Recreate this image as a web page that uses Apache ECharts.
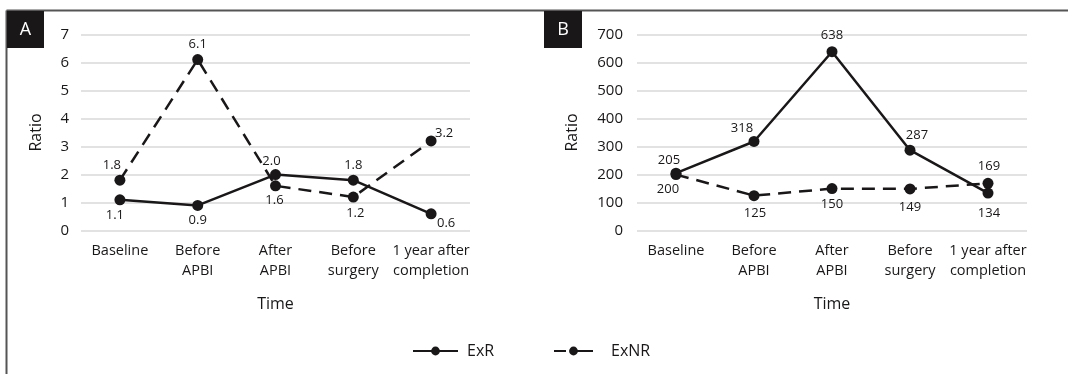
<!DOCTYPE html>
<html>
<head>
<meta charset="utf-8">
<script src="https://cdn.jsdelivr.net/npm/echarts@6/dist/echarts.min.js"></script>
<style>
html,body{margin:0;padding:0;background:#fff;}
#chart{width:1068px;height:374px;}
</style>
</head>
<body>
<div id="chart"></div>
<script>
const categories = ['Baseline', 'Before\nAPBI', 'After\nAPBI', 'Before\nsurgery', '1 year after\ncompletion'];
const seriesNames = ['ExR', 'ExNR'];
const panelA_ExR = [1.1, 0.9, 2.0, 1.8, 0.6];
const panelA_ExNR = [1.8, 6.1, 1.6, 1.2, 3.2];
const panelB_ExR = [205, 318, 638, 287, 134];
const panelB_ExNR = [200, 125, 150, 149, 169];
const yTicksA = [0, 1, 2, 3, 4, 5, 6, 7];
const yTicksB = [0, 100, 200, 300, 400, 500, 600, 700];
const panelLetters = ['A', 'B'];

// label offsets (style only)
const offA_ExR = [[-5,15],[0,15],[-4,-13],[0,-15],[15,9]];
const offA_ExNR = [[-8,-15],[0,-15],[-1,14],[2,16],[13,-8]];
const offB_ExR = [[-7,-13],[-12,-13],[0,-16],[7,-15],[1,20]];
const offB_ExNR = [[-8,15],[1,18],[0,16],[0,18],[1,-17]];

const FONT = 'Open Sans';
const INK = '#1a1718';

function items(vals, offs, digits) {
  return vals.map((v, i) => ({
    value: v,
    label: { offset: offs[i], formatter: () => digits ? v.toFixed(digits) : String(v) }
  }));
}

function lineSeries(name, vals, offs, idx, dashed, digits) {
  return {
    name: name, type: 'line', xAxisIndex: idx, yAxisIndex: idx,
    data: items(vals, offs, digits),
    symbol: 'circle', symbolSize: 11,
    itemStyle: { color: INK },
    lineStyle: { color: INK, width: 2.5, type: dashed ? [13, 8] : 'solid' },
    label: { show: true, position: 'inside', color: INK, fontFamily: FONT, fontSize: 13 },
    z: dashed ? 2 : 3,
    animation: false
  };
}

function xAx(idx) {
  return {
    type: 'category', gridIndex: idx, data: categories, boundaryGap: true,
    axisLine: { show: false }, axisTick: { show: false },
    axisLabel: { color: INK, fontFamily: FONT, fontSize: 14.5, lineHeight: 20, margin: 10, interval: 0 },
    name: 'Time', nameLocation: 'middle', nameGap: 66,
    nameTextStyle: { color: INK, fontFamily: FONT, fontSize: 16 }
  };
}

function yAx(idx, ticks, gap) {
  return {
    type: 'value', gridIndex: idx, min: ticks[0], max: ticks[ticks.length - 1],
    interval: ticks[1] - ticks[0],
    axisLine: { show: false }, axisTick: { show: false },
    axisLabel: { color: INK, fontFamily: FONT, fontSize: 15, margin: idx === 0 ? 12 : 14 },
    splitLine: { lineStyle: { color: '#d9d9d9', width: 1.5 } },
    name: 'Ratio', nameLocation: 'middle', nameGap: gap, nameRotate: 90,
    nameTextStyle: { color: INK, fontFamily: FONT, fontSize: 16 }
  };
}

const chart = echarts.init(document.getElementById('chart'), null, { renderer: 'canvas' });
chart.setOption({
  backgroundColor: '#fff',
  animation: false,
  grid: [
    { left: 81, right: 598, top: 34.3, bottom: 143.3 },
    { left: 637, right: 41, top: 34.3, bottom: 143.3 }
  ],
  xAxis: [xAx(0), xAx(1)],
  yAxis: [yAx(0, yTicksA, 37), yAx(1, yTicksB, 57)],
  legend: [
    { data: [seriesNames[0]], left: 407, top: 338, itemWidth: 45, itemHeight: 11, itemGap: 0,
      textStyle: { color: INK, fontFamily: FONT, fontSize: 16, padding: [0, 0, 0, 4] } },
    { data: [{ name: seriesNames[1] }], left: 548, top: 338, itemWidth: 39, itemHeight: 11, itemGap: 0,
      lineStyle: { type: [12, 4, 40, 4] },
      textStyle: { color: INK, fontFamily: FONT, fontSize: 16, padding: [0, 0, 0, 13] } }
  ],
  graphic: [
    { type: 'line', shape: { x1: 6.5, y1: 10.5, x2: 1068, y2: 10.5 }, style: { stroke: '#555', lineWidth: 2 } },
    { type: 'line', shape: { x1: 6.5, y1: 10.5, x2: 6.5, y2: 374 }, style: { stroke: '#555', lineWidth: 2 } },
    { type: 'rect', shape: { x: 7, y: 11, width: 37, height: 37 }, style: { fill: INK } },
    { type: 'text', x: 25.5, y: 29.5, style: { text: panelLetters[0], fill: '#fff', font: '18px "Open Sans"', align: 'center', verticalAlign: 'middle' } },
    { type: 'rect', shape: { x: 544, y: 11, width: 38, height: 37 }, style: { fill: INK } },
    { type: 'text', x: 563, y: 29.5, style: { text: panelLetters[1], fill: '#fff', font: '18px "Open Sans"', align: 'center', verticalAlign: 'middle' } }
  ],
  series: [
    lineSeries(seriesNames[0], panelA_ExR, offA_ExR, 0, false, 1),
    lineSeries(seriesNames[1], panelA_ExNR, offA_ExNR, 0, true, 1),
    lineSeries(seriesNames[0], panelB_ExR, offB_ExR, 1, false, 0),
    lineSeries(seriesNames[1], panelB_ExNR, offB_ExNR, 1, true, 0)
  ]
});
</script>
</body>
</html>
